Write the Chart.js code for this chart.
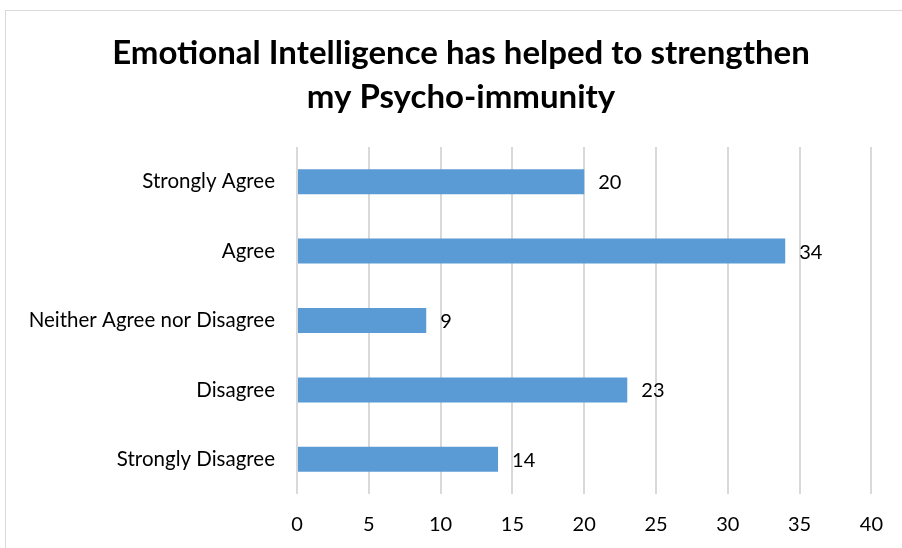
<!DOCTYPE html>
<html>
<head>
<meta charset="utf-8">
<script src="https://cdn.jsdelivr.net/npm/chart.js@4/dist/chart.umd.min.js"></script>
<style>
  html, body { margin: 0; padding: 0; background: #fff; overflow: hidden; }
  #frame { position: absolute; left: 5px; top: 10px; width: 1200px; height: 900px; border: 1px solid #d9d9d9; }
  #wrap { position: absolute; left: 0; top: 0; width: 902px; height: 548px; }
</style>
</head>
<body>
<div id="frame"></div>
<div id="wrap"><canvas id="myChart"></canvas></div>
<script>
const categories = ['Strongly Agree', 'Agree', 'Neither Agree nor Disagree', 'Disagree', 'Strongly Disagree'];
const responses = [20, 34, 9, 23, 14];
const titleLines = ['Emotional Intelligence has helped to strengthen', 'my Psycho-immunity'];

const FONT = 'Lato, "Liberation Sans", sans-serif';

// value labels to the right of each bar
const valueLabels = {
    id: 'valueLabels',
    afterDatasetsDraw(chart) {
        const c = chart.ctx;
        const meta = chart.getDatasetMeta(0);
        c.save();
        c.font = '20px ' + FONT;
        c.fillStyle = '#000';
        c.textAlign = 'left';
        c.textBaseline = 'middle';
        meta.data.forEach((bar, i) => {
            c.fillText(String(responses[i]), bar.x + 14, bar.y + 1);
        });
        c.restore();
    }
};

// title centred on the whole chart frame (the frame starts a few px in)
const frameTitle = {
    id: 'frameTitle',
    afterDraw(chart) {
        const c = chart.ctx;
        c.save();
        c.font = 'bold 33px ' + FONT;
        c.fillStyle = '#000';
        c.textAlign = 'center';
        c.textBaseline = 'middle';
        titleLines.forEach((line, i) => {
            c.fillText(line, 461, 53 + i * 44);
        });
        c.restore();
    }
};

const ctx = document.getElementById('myChart');

new Chart(ctx, {
    type: 'bar',
    data: {
        labels: categories,
        datasets: [{
            data: responses,
            backgroundColor: '#5b9bd5',
            borderWidth: 0,
            categoryPercentage: 1,
            barPercentage: 0.36
        }]
    },
    options: {
        indexAxis: 'y',
        responsive: true,
        maintainAspectRatio: false,
        animation: false,
        layout: {
            padding: { left: 0, right: 29, top: 147, bottom: 0 }
        },
        scales: {
            x: {
                min: 0,
                max: 40,
                ticks: {
                    stepSize: 5,
                    color: '#000',
                    padding: 19,
                    font: { family: FONT, size: 20 }
                },
                grid: {
                    color: '#d9d9d9',
                    lineWidth: 2,
                    drawTicks: false
                },
                border: { display: false },
                afterFit(scale) { scale.height = 54; }
            },
            y: {
                ticks: {
                    color: '#000',
                    padding: 22,
                    font: { family: FONT, size: 20.5 }
                },
                grid: { display: false, drawTicks: false },
                border: { display: false },
                afterFit(scale) { scale.width = 297; }
            }
        },
        plugins: {
            legend: { display: false },
            tooltip: { enabled: false },
            title: { display: false }
        }
    },
    plugins: [valueLabels, frameTitle]
});
</script>
</body>
</html>
